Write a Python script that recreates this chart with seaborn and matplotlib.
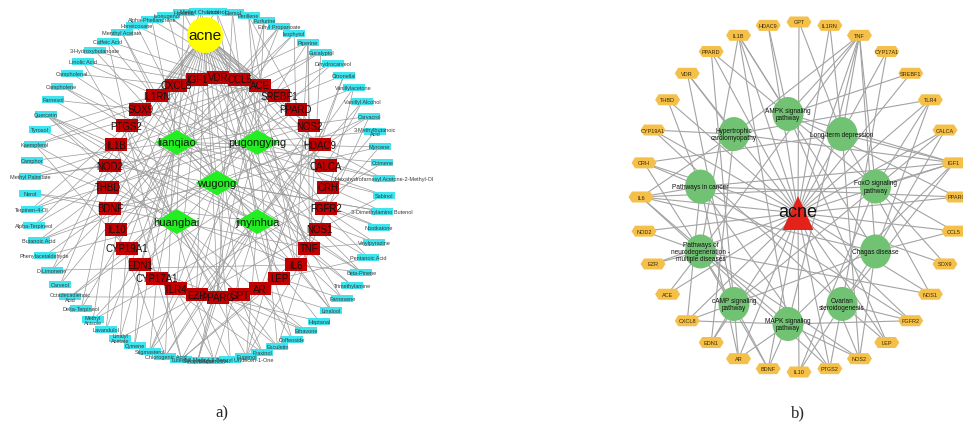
import numpy as np
import pandas as pd
import matplotlib
matplotlib.use("Agg")
import matplotlib.pyplot as plt
from matplotlib.path import Path
from matplotlib.collections import LineCollection
import seaborn as sns

sns.set_theme(style="white")
plt.rcParams["font.family"] = ["Liberation Sans", "DejaVu Sans"]

# ------------------------------------------------------------------
# a) herb - ingredient - target - disease network
# ------------------------------------------------------------------
disease = "acne"

targets_a = [
    "VDR", "CCL5", "ACE", "SREBF1", "PPARD", "NOS2", "HDAC9", "CALCA",
    "CRH", "FGFR2", "NOS1", "TNF", "IL6", "LEP", "AR", "GPT",
    "PPARG", "EZR", "TLR4", "CYP17A1", "EDN1", "CYP19A1", "IL10", "BDNF",
    "THBD", "NOD2", "IL1B", "PTGS2", "SOX9", "IL1RN", "CXCL8", "IGF1",
]

# outer four herbs (clockwise from upper left) and the central one
herbs_ring = ["lianqiao", "pugongying", "jinyinhua", "huangbai"]
herb_center = "wugong"
herb_codes = {"L": "lianqiao", "P": "pugongying", "J": "jinyinhua",
              "H": "huangbai", "W": "wugong"}

ingredients = [
    "Linderol", "Elemol", "Perillene", "Furfurine", "Ethyl Propanoate",
    "Isophytol", "Piperine", "Eucalyptol", "Dihydrocarveol", "Citronellal",
    "Vanillylacetone", "Vanillyl Alcohol", "Carvacrol", "3-Methylbutanoic\nAcid", "Myrcene",
    "Ocimene", "Hexahydrofarnesyl Acetone-2-Methyl-Ol", "Sabinol", "3-Dimethylamino Butenol", "Nootkatone",
    "Vinylpyrazine", "Pentanoic Acid", "Beta-Pinene", "Trimethylamine", "Farnesene",
    "Linalool", "Heptanal", "Ethavone", "Coffeoside", "Esculetin",
    "Fraxinol", "Eugenol", "2-Methyl-3-Benzyl Undecen-1-One", "Isoquercitrin", "Sinapic Acid",
    "Luteolin", "Chlorogenic Acid", "Stigmasterol", "Cymene", "Linalyl\nAcetate",
    "Lavandulol", "Methyl\nAnisole", "Delta-Terpineol", "Octadecadienoic\nAcid", "Carveol",
    "D-Limonene", "Phenylacetaldehyde", "Butanoic Acid", "Alpha-Terpineol", "Terpinen-4-Ol",
    "Nerol", "Methyl Palmitate", "Camphor", "Kaempferol", "Tyrosol",
    "Quercetin", "Farnesol", "Campholene", "Campholenal", "Linolic Acid",
    "3-Hydroxybutanoate", "Caffeic Acid", "Menthyl Acetate", "Heneicosane", "Alpha-Phellandrene",
    "Isoeugenol", "Hexanal", "Methyl Chavicol",
]

ingredient_herb = ("JJPPLLWLLL" "JJLPLLPLWL" "WPLWLJLHJP" "HJWJPJJPLL"
                   "LWLHLLHPLL" "JPLHJHJLLP" "WJLWLWHW")

ingredient_targets = [
    "TNF IL1B", "PPARG", "IL6 NOS2", "EZR", "CCL5 TLR4",
    "PPARD IL10", "TNF IL6 PTGS2 NOS2", "IL1B TNF", "CYP19A1", "HDAC9 AR",
    "NOS1 THBD", "CALCA", "TNF IL10 EDN1", "CRH", "FGFR2 BDNF",
    "TLR4", "CALCA IGF1", "NOS1 SOX9", "CRH NOD2", "FGFR2",
    "TNF IL1RN", "NOS1 LEP", "IL6 PTGS2 CXCL8", "TNF", "LEP IGF1",
    "IL6 AR VDR", "PPARG", "GPT EDN1", "AR", "PPARG IL1B TNF",
    "GPT CYP17A1", "PTGS2 NOS2 TNF", "EZR", "TLR4 SOX9", "PPARG ACE",
    "IL6 TNF IL1B PTGS2", "CXCL8 NOS2 IL10", "TLR4 CYP17A1 HDAC9", "EDN1", "CYP19A1 NOS1",
    "IL10", "BDNF CRH", "THBD", "PPARG PPARD", "NOD2",
    "IL1B IL6", "BDNF", "HDAC9 THBD", "IL1B", "PTGS2 NOS2",
    "TNF", "NOD2 SREBF1", "IL6", "CYP19A1 VDR ACE", "IL1RN",
    "IL6 IL1B TNF GPT", "SOX9", "PTGS2", "CXCL8", "PPARG SREBF1",
    "IGF1", "VDR PTGS2", "IL1RN", "CCL5", "ACE",
    "SREBF1 NOS2", "VDR", "CXCL8 TNF",
]

# ------------------------------------------------------------------
# b) disease - pathway - target network
# ------------------------------------------------------------------
targets_b = [
    "GPT", "IL1RN", "TNF", "CYP17A1", "SREBF1", "TLR4", "CALCA", "IGF1",
    "PPARG", "CCL5", "SOX9", "NOS1", "FGFR2", "LEP", "NOS2", "PTGS2",
    "IL10", "BDNF", "AR", "EDN1", "CXCL8", "ACE", "EZR", "NOD2",
    "IL6", "CRH", "CYP19A1", "THBD", "VDR", "PPARD", "IL1B", "HDAC9",
]

pathways = [
    "AMPK signaling\npathway", "Long-term depression", "FoxO signaling\npathway",
    "Chagas disease", "Ovarian\nsteroidogenesis", "MAPK signaling\npathway",
    "cAMP signaling\npathway", "Pathways of\nneurodegeneration -\nmultiple diseases",
    "Pathways in cancer", "Hypertrophic\ncardiomyopathy",
]

pathway_targets = [
    "SREBF1 IGF1 LEP PPARG IL1B HDAC9 TNF",
    "NOS1 NOS2 IGF1 GPT TNF CRH IL1RN",
    "IL6 IGF1 IL10 TNF SOX9 CCL5 PPARD TLR4",
    "TNF IL6 IL1B IL10 NOS2 CXCL8 CCL5 TLR4 CALCA",
    "CYP17A1 CYP19A1 IGF1 LEP PTGS2 FGFR2",
    "TNF IL6 IL1B FGFR2 BDNF IGF1 NOS2 CXCL8 AR",
    "EDN1 CRH CALCA VDR PPARD AR BDNF",
    "TNF IL6 IL1B NOS1 NOS2 PTGS2 BDNF EZR NOD2 ACE",
    "IL6 IGF1 FGFR2 PTGS2 AR CXCL8 PPARG THBD CRH",
    "TNF IL6 IGF1 EDN1 TLR4 CYP19A1 VDR",
]


# ------------------------------------------------------------------
# layout helpers (pixel space, y pointing down)
# ------------------------------------------------------------------
def ring(n, cx, cy, rx, ry, start=90.0):
    ang = np.deg2rad(start - 360.0 * np.arange(n) / n)
    return cx + rx * np.cos(ang), cy - ry * np.sin(ang)


def marker(verts, codes=None):
    return Path(np.asarray(verts, float), codes)


def msize(px):
    return (0.72 * px) ** 2


rect_cyan = marker([(-11, -3.5), (11, -3.5), (11, 3.5), (-11, 3.5), (-11, -3.5)])
rect_red = marker([(-11, -6.5), (11, -6.5), (11, 6.5), (-11, 6.5), (-11, -6.5)])
diamond = marker([(-21.5, 0), (0, 12.5), (21.5, 0), (0, -12.5), (-21.5, 0)])
hexagon = marker([(-12.5, 0), (-9, 5.5), (9, 5.5), (12.5, 0), (9, -5.5), (-9, -5.5), (-12.5, 0)])
triangle = marker([(0, 17), (-15.5, -17), (15.5, -17), (0, 17)])
uc = Path.unit_circle()
ellipse = Path(uc.vertices * np.array([15.5, 17.0]), uc.codes)
circle = Path.unit_circle()

fig = plt.figure(figsize=(9.63, 4.35), dpi=100)
ax = fig.add_axes([0, 0, 1, 1])
ax.set_xlim(0, 963)
ax.set_ylim(435, 0)
ax.axis("off")

# ---------------- panel a positions ----------------
ix, iy = ring(len(ingredients), 207, 187, 177, 175, start=87)
ing_pos = {n: (x, y) for n, x, y in zip(ingredients, ix, iy)}
tx, ty = ring(len(targets_a), 218, 188, 110, 110, start=90)
tgt_a_pos = {n: (x, y) for n, x, y in zip(targets_a, tx, ty)}
hx, hy = ring(len(herbs_ring), 217, 183, 57, 56, start=135)
herb_pos = {n: (x, y) for n, x, y in zip(herbs_ring, hx, hy)}
herb_pos[herb_center] = (217, 184)
acne_a = (205, 36)

seg_a = []
for name, code, tl in zip(ingredients, ingredient_herb, ingredient_targets):
    seg_a.append([ing_pos[name], herb_pos[herb_codes[code]]])
    for t in tl.split():
        seg_a.append([ing_pos[name], tgt_a_pos[t]])
for t in targets_a:
    seg_a.append([acne_a, tgt_a_pos[t]])
ax.add_collection(LineCollection(seg_a, colors="#9a9a9a", linewidths=0.5, zorder=1))

df_ing = pd.DataFrame({"x": ix, "y": iy, "name": ingredients})
sns.scatterplot(data=df_ing, x="x", y="y", marker=rect_cyan, s=msize(22),
                color="#3fe4ee", edgecolor="none", linewidth=0, ax=ax, zorder=2, legend=False)
for n, x, y in zip(ingredients, ix, iy):
    ax.text(x, y, n, fontsize=4, color="#3a3a3a", ha="center", va="center",
            linespacing=0.95, zorder=3)

df_ta = pd.DataFrame({"x": tx, "y": ty, "name": targets_a})
sns.scatterplot(data=df_ta, x="x", y="y", marker=rect_red, s=msize(22),
                color="#c00000", edgecolor="none", linewidth=0, ax=ax, zorder=4, legend=False)
for n, x, y in zip(targets_a, tx, ty):
    ax.text(x, y, n, fontsize=7, color="#111111", ha="center", va="center", zorder=5)

herb_names = herbs_ring + [herb_center]
df_h = pd.DataFrame({"x": [herb_pos[h][0] for h in herb_names],
                     "y": [herb_pos[h][1] for h in herb_names], "name": herb_names})
sns.scatterplot(data=df_h, x="x", y="y", marker=diamond, s=msize(43),
                color="#22ee22", edgecolor="none", linewidth=0, ax=ax, zorder=4, legend=False)
for h in herb_names:
    ax.text(*herb_pos[h], h, fontsize=8, color="#0c1f0c", ha="center", va="center", zorder=5)

sns.scatterplot(x=[acne_a[0]], y=[acne_a[1]], marker=circle, s=msize(36),
                color="#ffff00", edgecolor="none", linewidth=0, ax=ax, zorder=4, legend=False)
ax.text(*acne_a, disease, fontsize=11, color="#111111", ha="center", va="center", zorder=5)

# ---------------- panel b positions ----------------
bx, by = ring(len(targets_b), 799, 198, 158, 175, start=90)
tgt_b_pos = {n: (x, y) for n, x, y in zip(targets_b, bx, by)}
px_, py_ = ring(len(pathways), 788, 220, 92, 105, start=90)
pw_pos = {n: (x, y) for n, x, y in zip(pathways, px_, py_)}
acne_b = (798, 214)

seg_b = []
for pw, tl in zip(pathways, pathway_targets):
    for t in tl.split():
        seg_b.append([pw_pos[pw], tgt_b_pos[t]])
for t in targets_b:
    seg_b.append([acne_b, tgt_b_pos[t]])
ax.add_collection(LineCollection(seg_b, colors="#a3a3a3", linewidths=0.8, zorder=1))

df_tb = pd.DataFrame({"x": bx, "y": by, "name": targets_b})
sns.scatterplot(data=df_tb, x="x", y="y", marker=hexagon, s=msize(25),
                color="#f4c04a", edgecolor="none", linewidth=0, ax=ax, zorder=4, legend=False)
for n, x, y in zip(targets_b, bx, by):
    ax.text(x, y, n, fontsize=4, color="#3b2a00", ha="center", va="center", zorder=5)

df_pw = pd.DataFrame({"x": px_, "y": py_, "name": pathways})
sns.scatterplot(data=df_pw, x="x", y="y", marker=ellipse, s=msize(34),
                color="#72c274", edgecolor="none", linewidth=0, ax=ax, zorder=4, legend=False)
for n, x, y in zip(pathways, px_, py_):
    ax.text(x, y, n, fontsize=4.7, color="#111111", ha="center", va="center",
            linespacing=1.05, zorder=5)

sns.scatterplot(x=[acne_b[0]], y=[acne_b[1]], marker=triangle, s=msize(34),
                color="#e32219", edgecolor="none", linewidth=0, ax=ax, zorder=4, legend=False)
ax.text(acne_b[0], acne_b[1] - 1, disease, fontsize=13, color="#111111",
        ha="center", va="center", zorder=5)

# panel captions
ax.text(222, 413, "a)", fontsize=12, family="Liberation Serif", ha="center", va="center")
ax.text(798, 413, "b)", fontsize=12, family="Liberation Serif", ha="center", va="center")

fig.savefig("out.png", dpi=100, facecolor="white")
